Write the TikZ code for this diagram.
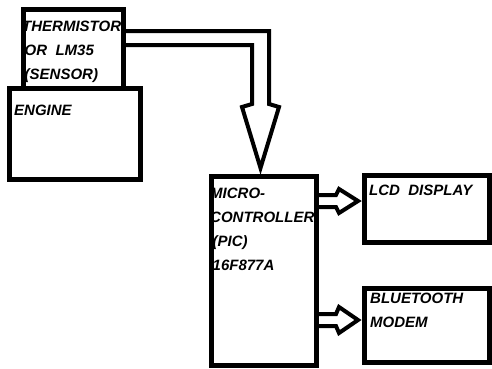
\documentclass[tikz,border=0pt]{standalone}
\usepackage{fontspec}
\setmainfont{Liberation Sans}
\usetikzlibrary{positioning,calc}

\begin{document}
\begin{tikzpicture}[
  x=1pt,y=-1pt,
  every node/.style={font=\fontsize{15}{24}\selectfont\bfseries\itshape},
  block/.style={draw=black,line width=5pt,inner sep=0pt},
  tag/.style={inner sep=0pt,align=left,anchor=north west},
  fat/.style={draw=black,line width=4pt,line join=miter}
]
  \useasboundingbox (0,0) rectangle (492,368);
  \node[block,minimum width=131pt,minimum height=91pt] (engine) at (75,134) {};
  \node[block,minimum width=100pt,minimum height=79pt] (sensor) at (73.5,49) {};
  \node[block,minimum width=105pt,minimum height=189pt] (micro) at (264,271) {};
  \node[block,minimum width=125pt,minimum height=67pt] (lcd) at (427,209) {};
  \node[block,minimum width=125pt,minimum height=74pt] (modem) at (427,325.5) {};

  \node[tag,below right=14pt and 1pt of sensor.north west] (sensor-txt)
    {THERMISTOR\\\,OR~~LM35\\\,(SENSOR)};
  \node[tag,below right=19pt and 7pt of engine.north west] (engine-txt) {ENGINE};
  \node[tag,below right=14pt and 1pt of micro.north west] (micro-txt)
    {MICRO-\\CONTROLLER\\\,(PIC)\\\,16F877A};
  \node[tag,below right=12pt and 7pt of lcd.north west] (lcd-txt) {LCD~~DISPLAY};
  \node[tag,below right=7pt and 8pt of modem.north west] (modem-txt) {BLUETOOTH\\MODEM};

  % sensor to micro
  \draw[fat] (sensor.east |- 0,31) -- (269,31) -- (269,104) -- (279,107)
    -- ([xshift=-3.5pt,yshift=6pt]micro.north) -- (242,107) -- (252,104)
    -- (252,45) -- (sensor.east |- 0,45);
  % micro to outputs
  \foreach \t/\y/\h in {lcd/201/12,modem/320/13}
    {\draw[fat] (micro.east |- 0,\y-6) -- (336,\y-6) -- (339,\y-\h)
      -- ($(\t.west |- 0,\y)+(-4,0)$) -- (339,\y+\h) -- (336,\y+6)
      -- (micro.east |- 0,\y+6);}
\end{tikzpicture}
\end{document}
